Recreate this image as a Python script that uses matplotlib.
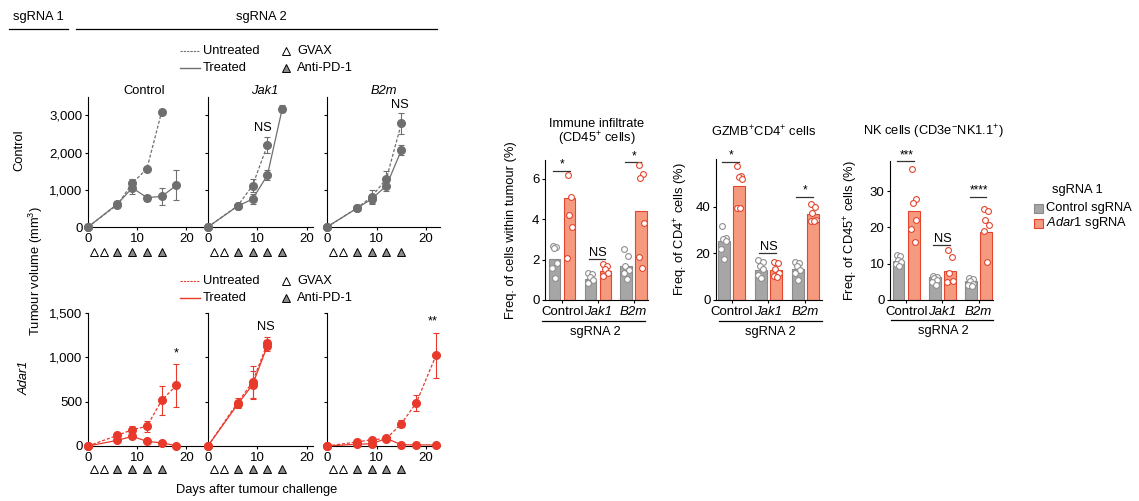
import matplotlib
matplotlib.use('Agg')
import matplotlib.pyplot as plt
from matplotlib.lines import Line2D
from matplotlib.patches import Rectangle

plt.rcParams['font.family'] = ['Liberation Sans', 'DejaVu Sans']
plt.rcParams['font.size'] = 9.3
plt.rcParams['mathtext.fontset'] = 'custom'
plt.rcParams['mathtext.rm'] = 'Liberation Sans'
plt.rcParams['mathtext.it'] = 'Liberation Sans:italic'
plt.rcParams['axes.linewidth'] = 0.8

FS = 9.3
TFS = 9.5

# ---- tumour growth curves (mm3), sgRNA 1 = Control (top row) ----
ctl_ctl_u_days = [0, 6, 9, 12, 15]
ctl_ctl_u_vol = [0, 600, 1170, 1570, 3100]
ctl_ctl_u_err = [0, 70, 110, 0, 0]
ctl_ctl_t_days = [0, 6, 9, 12, 15, 18]
ctl_ctl_t_vol = [0, 620, 1050, 790, 820, 1120]
ctl_ctl_t_err = [0, 90, 170, 80, 230, 400]

ctl_jak_u_days = [0, 6, 9, 12]
ctl_jak_u_vol = [0, 570, 1110, 2200]
ctl_jak_u_err = [0, 40, 180, 215]
ctl_jak_t_days = [0, 6, 9, 12, 15]
ctl_jak_t_vol = [0, 560, 750, 1390, 3180]
ctl_jak_t_err = [0, 40, 130, 130, 90]

ctl_b2m_u_days = [0, 6, 9, 12, 15]
ctl_b2m_u_vol = [0, 500, 810, 1300, 2780]
ctl_b2m_u_err = [0, 40, 170, 190, 290]
ctl_b2m_t_days = [0, 6, 9, 12, 15]
ctl_b2m_t_vol = [0, 500, 750, 1110, 2060]
ctl_b2m_t_err = [0, 40, 120, 150, 135]

# ---- sgRNA 1 = Adar1 (bottom row) ----
ada_ctl_u_days = [0, 6, 9, 12, 15, 18]
ada_ctl_u_vol = [0, 120, 184, 222, 515, 684]
ada_ctl_u_err = [0, 20, 40, 65, 160, 245]
ada_ctl_t_days = [0, 6, 9, 12, 15, 18]
ada_ctl_t_vol = [0, 64, 109, 53, 34, 5]
ada_ctl_t_err = [0, 15, 20, 10, 8, 3]

ada_jak_u_days = [0, 6, 9, 12]
ada_jak_u_vol = [0, 490, 720, 1160]
ada_jak_u_err = [0, 50, 180, 70]
ada_jak_t_days = [0, 6, 9, 12]
ada_jak_t_vol = [0, 470, 690, 1130]
ada_jak_t_err = [0, 40, 160, 60]

ada_b2m_u_days = [0, 6, 9, 12, 15, 18, 22]
ada_b2m_u_vol = [0, 45, 71, 83, 252, 485, 1022]
ada_b2m_u_err = [0, 15, 20, 20, 40, 85, 250]
ada_b2m_t_days = [0, 6, 9, 12, 15, 18, 22]
ada_b2m_t_vol = [0, 20, 25, 85, 15, 12, 12]
ada_b2m_t_err = [0, 8, 8, 15, 5, 4, 4]

gvax_days = [1.3, 3.3]
pd1_days = [6, 9, 12, 15]

top_yticks = [0, 1000, 2000, 3000]
top_yticklabels = ['0', '1,000', '2,000', '3,000']
bot_yticks = [0, 500, 1000, 1500]
bot_yticklabels = ['0', '500', '1,000', '1,500']
day_ticks = [0, 10, 20]

col_titles = ['Control', 'Jak1', 'B2m']

# significance on growth curves: (day, volume, label)
top_sig = [None, (11.1, 2650, 'NS'), (14.7, 3270, 'NS')]
bot_sig = [(18, 1040, '*'), (11.7, 1340, 'NS'), (21.4, 1400, '**')]

# ---- immune infiltrate bar charts ----
groups = ['Control', 'Jak1', 'B2m']

imm_ctl_mean = [2.05, 1.05, 1.7]
imm_ada_mean = [5.05, 1.45, 4.4]
imm_ctl_pts = [[2.65, 2.6, 2.55, 1.85, 1.6, 1.1], [1.35, 1.3, 1.15, 1.0, 0.85],
               [2.5, 2.2, 1.7, 1.5, 1.35, 1.05]]
imm_ada_pts = [[6.2, 5.1, 4.2, 3.6, 2.1], [1.8, 1.7, 1.55, 1.35, 1.2],
               [6.7, 6.25, 6.05, 3.8, 2.15, 1.6]]
imm_sig = ['*', 'NS', '*']
imm_sig_y = [6.39, 2.03, 6.83]

gz_ctl_mean = [25.3, 12.9, 13.3]
gz_ada_mean = [49.0, 12.7, 36.9]
gz_ctl_pts = [[31.8, 26.6, 26.2, 25.5, 21.8, 17.8], [17.2, 16.5, 14.8, 13.2, 10.8, 9.4],
              [16.5, 15.8, 14.4, 13.0, 11.6, 8.8]]
gz_ada_pts = [[57.4, 53.5, 53.0, 51.9, 39.5, 39.5], [16.5, 15.8, 13.2, 11.5, 10.2, 9.8],
              [41.3, 40.0, 37.6, 34.4, 34.0, 33.8]]
gz_sig = ['*', 'NS', '*']
gz_sig_y = [59.4, 20.2, 44.3]

nk_ctl_mean = [10.7, 6.2, 5.1]
nk_ada_mean = [24.6, 8.1, 18.6]
nk_ctl_pts = [[12.3, 12.0, 11.0, 10.5, 10.0, 9.5], [6.6, 6.4, 6.0, 5.5, 5.0, 4.2],
              [6.0, 5.7, 5.2, 4.5, 4.0, 3.8]]
nk_ada_pts = [[36.0, 27.7, 26.8, 22.0, 19.7, 16.0], [13.8, 11.9, 7.5, 5.2, 5.0],
              [25.0, 24.5, 22.0, 20.6, 19.1, 10.6]]
nk_sig = ['***', 'NS', '****']
nk_sig_y = [38.3, 15.2, 28.4]

GRAY = '#6f6f6f'
RED = '#e8392b'
BAR_GRAY = '#a6a6a6'
BAR_GRAY_EDGE = '#8a8a8a'
BAR_RED = '#f59a7e'
BAR_RED_EDGE = '#e2462f'

W, H = 1139, 501
fig = plt.figure(figsize=(W / 100, H / 100), dpi=100)


def box(l, t, r, b):
    return [l / W, 1 - b / H, (r - l) / W, (b - t) / H]


def ftext(x, y, s, **kw):
    kw.setdefault('ha', 'center')
    kw.setdefault('va', 'center')
    kw.setdefault('fontsize', FS)
    fig.text(x / W, 1 - y / H, s, **kw)


def fline(x0, x1, y, **kw):
    kw.setdefault('color', 'black')
    kw.setdefault('lw', 0.9)
    fig.add_artist(Line2D([x0 / W, x1 / W], [1 - y / H] * 2, transform=fig.transFigure, **kw))


def fmark(x, y, **kw):
    fig.add_artist(Line2D([x / W], [1 - y / H], transform=fig.transFigure, ls='none', **kw))


def curve(ax, days, vol, err, color, dashed):
    ls = (0, (2.5, 1.5)) if dashed else '-'
    cont = ax.errorbar(days, vol, yerr=err, color=color, ls=ls, lw=0.9, marker='o', ms=5.5,
                       capsize=2.2, elinewidth=0.8, capthick=0.8, zorder=3)
    for art in cont.get_children():
        art.set_clip_on(False)


top_series = [
    (ctl_ctl_u_days, ctl_ctl_u_vol, ctl_ctl_u_err, ctl_ctl_t_days, ctl_ctl_t_vol, ctl_ctl_t_err),
    (ctl_jak_u_days, ctl_jak_u_vol, ctl_jak_u_err, ctl_jak_t_days, ctl_jak_t_vol, ctl_jak_t_err),
    (ctl_b2m_u_days, ctl_b2m_u_vol, ctl_b2m_u_err, ctl_b2m_t_days, ctl_b2m_t_vol, ctl_b2m_t_err),
]
bot_series = [
    (ada_ctl_u_days, ada_ctl_u_vol, ada_ctl_u_err, ada_ctl_t_days, ada_ctl_t_vol, ada_ctl_t_err),
    (ada_jak_u_days, ada_jak_u_vol, ada_jak_u_err, ada_jak_t_days, ada_jak_t_vol, ada_jak_t_err),
    (ada_b2m_u_days, ada_b2m_u_vol, ada_b2m_u_err, ada_b2m_t_days, ada_b2m_t_vol, ada_b2m_t_err),
]

col_px = [(88, 201), (201, 313), (323, 440)]
xlims = [(0, 23), (-1.4, 21.2), (-0.8, 22.8)]
rows = [
    (97, 227, 3490, top_series, top_yticks, top_yticklabels, top_sig, GRAY, -0.19),
    (313, 446, 1500, bot_series, bot_yticks, bot_yticklabels, bot_sig, RED, -0.175),
]

for r, (t, b, ytop, series, yt, ytl, sigs, color, tri_y) in enumerate(rows):
    for c in range(3):
        ax = fig.add_axes(box(col_px[c][0], t, col_px[c][1], b))
        ax.set_xlim(*xlims[c])
        ax.set_ylim(0, ytop)
        ax.spines['top'].set_visible(False)
        ax.spines['right'].set_visible(False)
        ax.spines['left'].set_position(('data', 0))
        ax.set_xticks(day_ticks)
        ax.set_yticks(yt)
        ax.tick_params(direction='out', length=2.5, width=0.8, labelsize=TFS, pad=1.5)
        if c == 0:
            ax.set_yticklabels(ytl)
        else:
            ax.tick_params(labelleft=False)
        ud, uv, ue, td, tv, te = series[c]
        curve(ax, ud, uv, ue, color, True)
        curve(ax, td, tv, te, color, False)
        tr = ax.get_xaxis_transform()
        ax.plot(gvax_days, [tri_y] * len(gvax_days), marker='^', ls='none', mfc='white',
                mec='black', mew=0.7, ms=6, transform=tr, clip_on=False)
        ax.plot(pd1_days, [tri_y] * len(pd1_days), marker='^', ls='none', mfc='#8c8c8c',
                mec='black', mew=0.7, ms=6, transform=tr, clip_on=False)
        if r == 0:
            ax.text(11.5, 1.046, col_titles[c], transform=tr, ha='center', va='center',
                    fontsize=FS, style='normal' if c == 0 else 'italic')
        if sigs[c] is not None:
            sx, sy, lab = sigs[c]
            ax.text(sx, sy, lab, ha='center', va='center', fontsize=FS, clip_on=False)

# line-chart legends
for y0, color in [(51, GRAY), (281, RED)]:
    fline(180, 200, y0, color=color, lw=0.8, ls=(0, (2, 1)))
    fline(180, 200, y0 + 17, color=color, lw=1.0)
    ftext(203, y0, 'Untreated', ha='left')
    ftext(203, y0 + 17, 'Treated', ha='left')
    fmark(286, y0, marker='^', mfc='white', mec='black', mew=0.7, ms=6)
    fmark(286, y0 + 17, marker='^', mfc='#8c8c8c', mec='black', mew=0.7, ms=6)
    ftext(297, y0, 'GVAX', ha='left')
    ftext(297, y0 + 17, 'Anti-PD-1', ha='left')

ftext(38, 17, 'sgRNA 1')
fline(9, 68, 29)
ftext(261, 17, 'sgRNA 2')
fline(76, 437, 29)

ftext(19, 150, 'Control', rotation=90)
ftext(25, 378, 'Adar1', rotation=90, style='italic')
ftext(36, 271, 'Tumour volume (mm$^{3}$)', rotation=90)
ftext(257, 490, 'Days after tumour challenge')

# ---- bar charts ----
jitter = [-0.06, 0.05, -0.02, 0.07, -0.07, 0.02]
off, bw = 0.21, 0.32

bar_panels = [
    ((545, 160, 648, 300), (-0.48, 2.4), 6.93, [0, 2, 4, 6], imm_ctl_mean, imm_ada_mean,
     imm_ctl_pts, imm_ada_pts, imm_sig, imm_sig_y, 'Freq. of cells within tumour (%)', -0.27),
    ((716, 159, 822, 300), (-0.42, 2.45), 60.6, [0, 20, 40], gz_ctl_mean, gz_ada_mean,
     gz_ctl_pts, gz_ada_pts, gz_sig, gz_sig_y, 'Freq. of CD4$^{+}$ cells (%)', -0.245),
    ((890, 161, 993, 300), (-0.45, 2.4), 38.3, [0, 10, 20, 30], nk_ctl_mean, nk_ada_mean,
     nk_ctl_pts, nk_ada_pts, nk_sig, nk_sig_y, 'Freq. of CD45$^{+}$ cells (%)', -0.29),
]

for (bx, xl, ytop, yt, cm, am, cp, ap, sig, sig_y, ylab, labx) in bar_panels:
    ax = fig.add_axes(box(*bx))
    ax.set_xlim(*xl)
    ax.set_ylim(0, ytop)
    ax.spines['top'].set_visible(False)
    ax.spines['right'].set_visible(False)
    xs = list(range(len(groups)))
    ax.bar([x - off for x in xs], cm, width=bw, color=BAR_GRAY, edgecolor=BAR_GRAY_EDGE, lw=0.8,
           clip_on=False)
    ax.bar([x + off for x in xs], am, width=bw, color=BAR_RED, edgecolor=BAR_RED_EDGE, lw=0.8,
           clip_on=False)
    for i in xs:
        ax.plot([i - off + jitter[k] for k in range(len(cp[i]))], cp[i], 'o', ms=4.2, mfc='white',
                mec='#8f8f8f', mew=0.8, clip_on=False, zorder=3)
        ax.plot([i + off + jitter[k] for k in range(len(ap[i]))], ap[i], 'o', ms=4.2, mfc='white',
                mec=BAR_RED_EDGE, mew=0.8, clip_on=False, zorder=3)
        ax.plot([i - off - 0.04, i + off], [sig_y[i]] * 2, color='#333333', lw=0.9, clip_on=False)
        ax.text(i, sig_y[i], sig[i], ha='center', va='bottom',
                fontsize=FS if sig[i] == 'NS' else 8.5, clip_on=False)
    ax.set_xticks(xs)
    ax.set_xticklabels(groups, fontsize=9.2)
    for k, lab in enumerate(ax.get_xticklabels()):
        if k > 0:
            lab.set_style('italic')
    ax.set_yticks(yt)
    ax.tick_params(direction='out', length=2.5, width=0.8, labelsize=TFS, pad=1.5)
    ax.set_ylabel(ylab, fontsize=FS)
    ax.yaxis.set_label_coords(labx, 0.5)

fline(542, 645, 321)
ftext(595, 332, 'sgRNA 2')
fline(719, 822, 321)
ftext(770, 332, 'sgRNA 2')
fline(891, 993, 320)
ftext(943, 331, 'sgRNA 2')

ftext(597, 124, 'Immune infiltrate')
ftext(597, 139, '(CD45$^{+}$ cells)')
ftext(764, 132, 'GZMB$^{+}$CD4$^{+}$ cells')
ftext(933, 132, 'NK cells (CD3e$^{-}$NK1.1$^{+}$)')

# bar legend
ftext(1077, 190, 'sgRNA 1')
fig.add_artist(Rectangle((1034 / W, 1 - 213 / H), 9 / W, 9 / H, transform=fig.transFigure,
                         facecolor=BAR_GRAY, edgecolor=BAR_GRAY_EDGE, lw=0.8))
fig.add_artist(Rectangle((1034 / W, 1 - 228 / H), 9 / W, 9 / H, transform=fig.transFigure,
                         facecolor=BAR_RED, edgecolor=BAR_RED_EDGE, lw=0.8))
ftext(1046, 208, 'Control sgRNA', ha='left')
ftext(1046, 223, '$\\mathit{Adar1}$ sgRNA', ha='left')

fig.savefig('out.png', dpi=100)
